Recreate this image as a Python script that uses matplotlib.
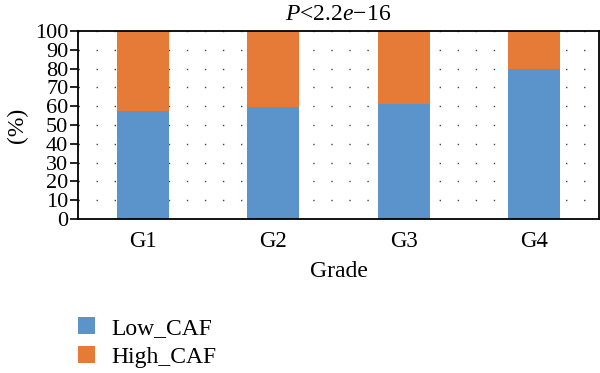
import matplotlib
matplotlib.use("Agg")
import matplotlib.pyplot as plt
import numpy as np

plt.rcParams['font.family'] = ['Liberation Serif', 'DejaVu Serif']
plt.rcParams['mathtext.fontset'] = 'custom'
plt.rcParams['mathtext.rm'] = 'Liberation Serif'
plt.rcParams['mathtext.it'] = 'Liberation Serif:italic'

grades = ["G1", "G2", "G3", "G4"]
low_caf = [57.4, 59.7, 61.2, 79.8]
high_caf = [100 - v for v in low_caf]
yticks = list(range(0, 101, 10))
title = "$P$<2.2$e$\u221216"

c_low = "#5b93cb"
c_high = "#e67b37"

fig = plt.figure(figsize=(6.0, 3.73), dpi=100)
ax = fig.add_axes([78/600, 1 - 219/373, 521/600, 188/373])

x = np.arange(len(grades))
ax.bar(x, low_caf, width=0.4, color=c_low, label="Low_CAF", zorder=2)
ax.bar(x, high_caf, width=0.4, bottom=low_caf, color=c_high, label="High_CAF", zorder=2)

ax.set_xlim(-0.5, 3.5)
ax.set_ylim(0, 100)
ax.set_yticks(yticks)
ax.set_xticks(x)
ax.set_xticklabels(grades)
ax.tick_params(axis='x', length=0, pad=9, labelsize=16.5)
ax.tick_params(axis='y', length=6, width=1.2, pad=1, labelsize=16)
for s in ax.spines.values():
    s.set_linewidth(1.3)
ax.yaxis.grid(True, linestyle=(0, (1, 12)), color="#444444", linewidth=1.0, zorder=1)
ax.set_axisbelow(True)

ax.set_xlabel("Grade", fontsize=17, labelpad=6)
ax.set_ylabel("(%)", fontsize=17, labelpad=5)
ax.set_title(title, fontsize=17, pad=8)

leg = fig.legend(loc="upper left", bbox_to_anchor=(57/600, 1 - 296/373), frameon=False,
                 fontsize=17, handlelength=0.72, handleheight=0.72, handletextpad=0.7,
                 labelspacing=0.3)

fig.savefig("out.png", dpi=100)
